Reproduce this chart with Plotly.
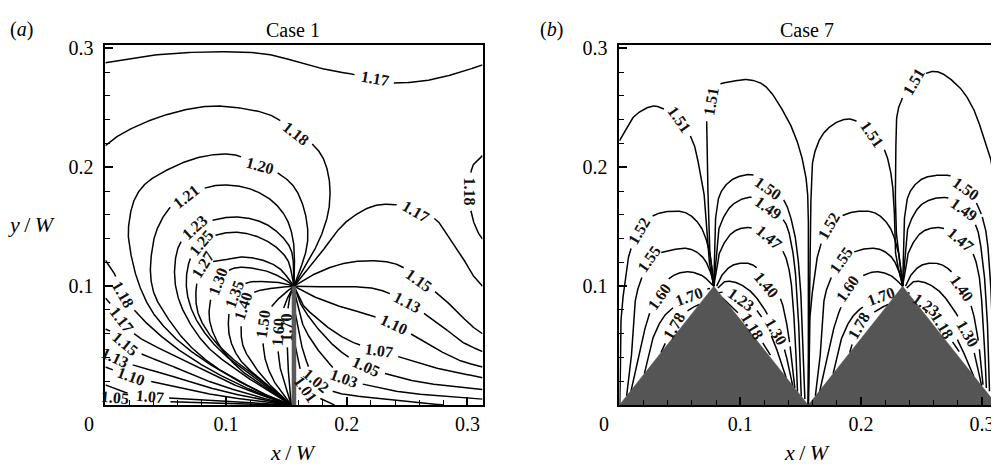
import numpy as np
import plotly.graph_objects as go

# ---------------- data (x/W, y/W) ----------------
# Panel (a) : Case 1, thin plate at x = 0.15625, tip at y = 0.1
A_PLATE_X = [0.15625, 0.15625]
A_PLATE_Y = [0.0, 0.1]

A_117_TOP = [(0, 0.288), (0.037, 0.294), (0.089, 0.2972), (0.133, 0.2953), (0.158, 0.289), (0.18, 0.283),
             (0.2234, 0.2747), (0.2351, 0.2713), (0.2627, 0.2725), (0.2903, 0.2788), (0.3125, 0.2862)]
A_118_UP = [(0, 0.2182), (0.0065, 0.2237), (0.023, 0.2333), (0.0506, 0.2443), (0.0836, 0.2512), (0.111, 0.250),
            (0.1387, 0.243), (0.158, 0.2285), (0.1705, 0.2205), (0.18, 0.2085), (0.1855, 0.1893), (0.1855, 0.1672),
            (0.1815, 0.150), (0.1745, 0.133), (0.1655, 0.117), (0.15625, 0.1)]
A_118_RIGHT = [(0.3125, 0.2099), (0.3054, 0.203), (0.3027, 0.1948), (0.3013, 0.1796), (0.3027, 0.1645),
               (0.3054, 0.1534), (0.3096, 0.1438), (0.3125, 0.1397)]
A_120 = [(0.154, 0), (0.1387, 0.006), (0.111, 0.0198), (0.0835, 0.0364), (0.0587, 0.0556), (0.0394, 0.0777),
         (0.0285, 0.0997), (0.0216, 0.1245), (0.019, 0.1466), (0.024, 0.1727), (0.033, 0.186), (0.0506, 0.1975),
         (0.0781, 0.2085), (0.1056, 0.2107), (0.1277, 0.2017), (0.1415, 0.196), (0.1552, 0.185), (0.1635, 0.1686),
         (0.1677, 0.1466), (0.1663, 0.130), (0.15625, 0.1)]
A_121 = [(0.154, 0), (0.1413, 0.0047), (0.1165, 0.0171), (0.089, 0.0336), (0.067, 0.053), (0.0505, 0.075),
         (0.041, 0.092), (0.0375, 0.108), (0.0382, 0.1273), (0.0423, 0.1466), (0.0533, 0.1658), (0.067, 0.1755),
         (0.0863, 0.1837), (0.1029, 0.1851), (0.1222, 0.181), (0.1387, 0.1713), (0.1497, 0.1576), (0.1552, 0.141),
         (0.1566, 0.1245), (0.15625, 0.1)]
A_123 = [(0.154, 0), (0.133, 0.013), (0.111, 0.028), (0.0862, 0.0474), (0.0697, 0.0694), (0.060, 0.0915),
         (0.0573, 0.1135), (0.0616, 0.1355), (0.074, 0.149), (0.0919, 0.1562), (0.1112, 0.1581), (0.1305, 0.1534),
         (0.1443, 0.1438), (0.154, 0.130), (0.15625, 0.1)]
A_125 = [(0.154, 0), (0.1277, 0.0198), (0.1056, 0.0364), (0.0862, 0.0556), (0.0725, 0.0777), (0.0671, 0.0997),
         (0.0699, 0.1218), (0.0795, 0.1369), (0.0946, 0.1438), (0.1112, 0.1452), (0.1277, 0.141), (0.1415, 0.1328),
         (0.1511, 0.1218), (0.15625, 0.1)]
A_127 = [(0.154, 0), (0.1304, 0.0198), (0.1084, 0.0364), (0.089, 0.0556), (0.0767, 0.0777), (0.0754, 0.0997),
         (0.081, 0.118), (0.0974, 0.1218), (0.1139, 0.1245), (0.1305, 0.1218), (0.1443, 0.1149), (0.15625, 0.1)]
A_130 = [(0.154, 0), (0.133, 0.0143), (0.111, 0.0306), (0.0945, 0.050), (0.0862, 0.0722), (0.0879, 0.0915),
         (0.0933, 0.1039), (0.1056, 0.1149), (0.1304, 0.1135), (0.147, 0.1066), (0.15625, 0.1)]
A_135 = [(0.154, 0), (0.1304, 0.0198), (0.111, 0.039), (0.1028, 0.058), (0.1028, 0.080), (0.107, 0.0928),
         (0.1166, 0.1025), (0.1332, 0.1039), (0.147, 0.1025), (0.15625, 0.1)]
A_140 = [(0.154, 0), (0.1414, 0.0116), (0.125, 0.0306), (0.114, 0.050), (0.1125, 0.0694), (0.1139, 0.0832),
         (0.1222, 0.0942), (0.1387, 0.0983), (0.15625, 0.1)]
A_150 = [(0.154, 0), (0.1414, 0.0171), (0.133, 0.0364), (0.1304, 0.0556), (0.1304, 0.068), (0.136, 0.0804),
         (0.1456, 0.0915), (0.15625, 0.1)]
A_160 = [(0.154, 0), (0.1455, 0.028), (0.143, 0.0474), (0.1429, 0.0612), (0.1456, 0.0736), (0.1497, 0.0873),
         (0.15625, 0.1)]
A_170 = [(0.154, 0), (0.152, 0.02), (0.151, 0.045), (0.1497, 0.0653), (0.1511, 0.079), (0.1525, 0.090),
         (0.15625, 0.1)]
A_118_LOW = [(0, 0.1218), (0.0065, 0.1125), (0.0147, 0.093), (0.0271, 0.0763), (0.0506, 0.0543), (0.078, 0.035),
             (0.1056, 0.0198), (0.1332, 0.0074), (0.154, 0)]
A_117_LOW = [(0, 0.090), (0.006, 0.083), (0.0134, 0.0722), (0.025, 0.059), (0.05, 0.045), (0.078, 0.031),
             (0.1, 0.020), (0.13, 0.008), (0.154, 0)]
A_115_LOW = [(0, 0.064), (0.006, 0.061), (0.0161, 0.0515), (0.03, 0.043), (0.05, 0.035), (0.078, 0.023),
             (0.1, 0.015), (0.13, 0.006), (0.154, 0)]
A_113_LOW = [(0, 0.047), (0.0078, 0.040), (0.025, 0.033), (0.05, 0.026), (0.078, 0.017), (0.1, 0.011),
             (0.13, 0.0045), (0.154, 0)]
A_110_LOW = [(0, 0.032), (0.0216, 0.024), (0.05, 0.017), (0.078, 0.011), (0.1, 0.007), (0.13, 0.003), (0.154, 0)]
A_107_LOW = [(0, 0.017), (0.015, 0.011), (0.0368, 0.0074), (0.06, 0.0055), (0.1, 0.003), (0.154, 0)]
A_105_LOW = [(0, 0.0085), (0.0078, 0.006), (0.025, 0.004), (0.06, 0.0025), (0.1, 0.0012), (0.154, 0)]
A_117_R = [(0.15625, 0.1), (0.166, 0.112), (0.178, 0.127), (0.1911, 0.1452), (0.2021, 0.1562), (0.2214, 0.1672),
           (0.2406, 0.1686), (0.2572, 0.1631), (0.2737, 0.1562), (0.282, 0.1452), (0.2947, 0.1265), (0.304, 0.110),
           (0.3125, 0.100)]
A_115_R = [(0.15625, 0.1), (0.169, 0.108), (0.1938, 0.1182), (0.2214, 0.1215), (0.2434, 0.1176), (0.260, 0.1052),
           (0.2737, 0.095), (0.2903, 0.080), (0.303, 0.067), (0.3125, 0.060)]
A_113_R = [(0.15625, 0.1), (0.166, 0.0995), (0.1938, 0.0997), (0.2214, 0.0983), (0.2351, 0.094), (0.2503, 0.086),
           (0.2627, 0.078), (0.2793, 0.066), (0.2958, 0.053), (0.3125, 0.045)]
A_110_R = [(0.15625, 0.1), (0.169, 0.093), (0.1938, 0.0832), (0.2214, 0.075), (0.2393, 0.068), (0.257, 0.0575),
           (0.2765, 0.046), (0.295, 0.037), (0.3125, 0.032)]
A_107_R = [(0.15625, 0.1), (0.1635, 0.0846), (0.1745, 0.0736), (0.1883, 0.0625), (0.2048, 0.0529), (0.2269, 0.046),
           (0.2434, 0.0405), (0.271, 0.032), (0.3125, 0.023)]
A_105_R = [(0.15625, 0.1), (0.1607, 0.0873), (0.169, 0.0736), (0.18, 0.0598), (0.1938, 0.046), (0.2158, 0.0322),
           (0.2351, 0.0255), (0.2627, 0.019), (0.3125, 0.013)]
A_103_R = [(0.1572, 0.093), (0.1635, 0.068), (0.1745, 0.0488), (0.1855, 0.035), (0.198, 0.0225), (0.2158, 0.017),
           (0.2489, 0.0105), (0.3125, 0.005)]
A_102_R = [(0.157, 0.079), (0.161, 0.057), (0.1663, 0.0377), (0.1745, 0.0205), (0.1883, 0.0116), (0.2214, 0.006),
           (0.26, 0.002), (0.28, 0)]
A_101_R = [(0.157, 0.0515), (0.161, 0.032), (0.1663, 0.0135), (0.1828, 0.0033), (0.19, 0)]

A_CURVES = [A_117_TOP, A_118_UP, A_118_RIGHT, A_120, A_121, A_123, A_125, A_127, A_130, A_135, A_140, A_150,
            A_160, A_170, A_118_LOW, A_117_LOW, A_115_LOW, A_113_LOW, A_110_LOW, A_107_LOW, A_105_LOW,
            A_117_R, A_115_R, A_113_R, A_110_R, A_107_R, A_105_R, A_103_R, A_102_R, A_101_R]

# (text, x, y, angle)
A_LABELS = [("1.17", 0.2234, 0.2747, 10), ("1.18", 0.158, 0.2285, 38), ("1.20", 0.1277, 0.2017, 15),
            ("1.21", 0.067, 0.1755, -38), ("1.23", 0.074, 0.149, -42), ("1.25", 0.0795, 0.1369, -50),
            ("1.27", 0.081, 0.118, -58), ("1.30", 0.0933, 0.1039, -70), ("1.35", 0.107, 0.0928, -70),
            ("1.40", 0.1139, 0.0832, -72), ("1.50", 0.1304, 0.068, -82), ("1.60", 0.1429, 0.0612, -86),
            ("1.70", 0.1497, 0.0653, -90), ("1.18", 0.0147, 0.093, 60), ("1.17", 0.0134, 0.0722, 52),
            ("1.15", 0.0161, 0.0515, 40), ("1.13", 0.0078, 0.040, 25), ("1.10", 0.0216, 0.024, 20),
            ("1.07", 0.0368, 0.0074, 5), ("1.05", 0.0078, 0.006, 5), ("1.18", 0.3013, 0.1796, 90),
            ("1.17", 0.2572, 0.1631, 30), ("1.15", 0.260, 0.1052, 35), ("1.13", 0.2503, 0.086, 27),
            ("1.10", 0.2393, 0.068, 25), ("1.07", 0.2269, 0.046, 8), ("1.05", 0.2158, 0.0322, 25),
            ("1.03", 0.198, 0.0225, 20), ("1.02", 0.1745, 0.0205, 40), ("1.01", 0.1663, 0.0135, 55)]

# Panel (b) : Case 7, two triangular obstacles
B_TRI_X = [0.0, 0.078125, 0.15625, 0.234375, 0.3125, 0.0]
B_TRI_Y = [0.0, 0.1, 0.0, 0.1, 0.0, 0.0]

B_151_L1 = [(0, 0.2223), (0.0124, 0.243), (0.0262, 0.2512), (0.033, 0.2507), (0.0496, 0.240), (0.0606, 0.2223),
            (0.0661, 0.20), (0.0697, 0.181), (0.0716, 0.1507), (0.0745, 0.120), (0.0781, 0.1)]
B_151_R1 = [(0.0781, 0.1), (0.0755, 0.12), (0.0744, 0.1397), (0.073, 0.1948), (0.0725, 0.2416), (0.0758, 0.2554),
            (0.0813, 0.269), (0.0923, 0.2719), (0.106, 0.2738), (0.1198, 0.269), (0.1364, 0.2457), (0.146, 0.225),
            (0.1529, 0.20), (0.1556, 0.18), (0.1565, 0.14), (0.1565, 0.08), (0.1562, 0)]
B_151_L2 = [(0.1562, 0), (0.157, 0.08), (0.1584, 0.1686), (0.161, 0.21), (0.1694, 0.2292), (0.1818, 0.2388),
            (0.1928, 0.2402), (0.2094, 0.2278), (0.219, 0.2154), (0.2245, 0.196), (0.2273, 0.1686), (0.2287, 0.127),
            (0.2344, 0.1)]
B_151_R2 = [(0.2344, 0.1), (0.2295, 0.141), (0.2287, 0.21), (0.2314, 0.2512), (0.2438, 0.2719), (0.2562, 0.280),
            (0.2645, 0.280), (0.281, 0.2678), (0.292, 0.2512), (0.3003, 0.2292), (0.3072, 0.2072), (0.3113, 0.1796),
            (0.3125, 0.1686)]
B_152_1 = [(0.0003, 0.0004), (0.0008, 0.017), (0.0014, 0.072), (0.0041, 0.0997), (0.0083, 0.1273), (0.0165, 0.1466),
           (0.0275, 0.159), (0.0413, 0.163), (0.0551, 0.1617), (0.0661, 0.152), (0.073, 0.1355), (0.0766, 0.1163),
           (0.0781, 0.1)]
B_155_1 = [(0.006, 0.0077), (0.0095, 0.035), (0.011, 0.06), (0.0138, 0.0915), (0.0179, 0.1052), (0.0248, 0.1231),
           (0.0413, 0.130), (0.0579, 0.1314), (0.0689, 0.1245), (0.0758, 0.1107), (0.0781, 0.1)]
B_160_1 = [(0.0096, 0.0116), (0.0165, 0.0446), (0.0234, 0.0722), (0.0275, 0.0832), (0.0331, 0.0915),
           (0.0413, 0.1066), (0.0551, 0.1121), (0.0675, 0.1094), (0.0744, 0.1039), (0.0781, 0.1)]
B_170_1 = [(0.0207, 0.0265), (0.0275, 0.0556), (0.0372, 0.0749), (0.0482, 0.0846), (0.0579, 0.0915),
           (0.0702, 0.097), (0.075, 0.098)]
B_178_1 = [(0.0344, 0.0441), (0.0455, 0.0667), (0.0579, 0.0804), (0.0661, 0.0846)]
B_150_1 = [(0.0781, 0.1), (0.0786, 0.13), (0.0795, 0.156), (0.084, 0.179), (0.095, 0.1906), (0.1116, 0.1934),
           (0.1233, 0.1824), (0.135, 0.174), (0.1433, 0.152), (0.1488, 0.1135), (0.1515, 0.0584), (0.1535, 0.005)]
B_149_1 = [(0.0781, 0.1), (0.0805, 0.13), (0.0826, 0.149), (0.0937, 0.1686), (0.110, 0.1747), (0.1226, 0.1658),
           (0.1364, 0.1548), (0.1433, 0.130), (0.1474, 0.086), (0.1505, 0.0074)]
B_147_1 = [(0.0781, 0.1), (0.0815, 0.118), (0.0826, 0.1273), (0.0937, 0.1452), (0.1074, 0.1493), (0.124, 0.141),
           (0.135, 0.130), (0.1405, 0.1135), (0.1446, 0.0722), (0.1474, 0.0113)]
B_140_1 = [(0.0805, 0.1), (0.084, 0.108), (0.0937, 0.1176), (0.1074, 0.119), (0.1157, 0.1135), (0.1212, 0.1011),
           (0.1322, 0.0915), (0.1377, 0.0722), (0.1419, 0.0446), (0.1452, 0.0142)]
B_130_1 = [(0.0815, 0.0985), (0.0865, 0.1035), (0.095, 0.1035), (0.107, 0.097), (0.1185, 0.0832), (0.1295, 0.0618),
           (0.1364, 0.0474), (0.1405, 0.030), (0.1435, 0.016)]
B_123_1 = [(0.0825, 0.0945), (0.0882, 0.095), (0.1006, 0.0887), (0.113, 0.0804), (0.121, 0.068), (0.128, 0.053),
           (0.134, 0.035), (0.138, 0.023)]
B_118_1 = [(0.085, 0.0905), (0.095, 0.0805), (0.110, 0.066), (0.117, 0.055), (0.125, 0.042)]
B_152_2 = [(0.1565, 0.0004), (0.157, 0.017), (0.1576, 0.072), (0.1603, 0.0997), (0.1645, 0.1273), (0.1736, 0.1507),
           (0.1837, 0.159), (0.1975, 0.163), (0.2113, 0.1617), (0.2223, 0.152), (0.2292, 0.1355), (0.2328, 0.1163),
           (0.2344, 0.1)]
B_155_2 = [(0.1622, 0.0077), (0.1657, 0.035), (0.1672, 0.06), (0.170, 0.0915), (0.1745, 0.1052), (0.1832, 0.1218),
           (0.1975, 0.130), (0.2141, 0.1314), (0.2251, 0.1245), (0.232, 0.1107), (0.2344, 0.1)]
B_160_2 = [(0.1658, 0.0116), (0.1727, 0.0446), (0.1796, 0.0722), (0.1837, 0.0832), (0.1887, 0.0983),
           (0.1975, 0.1066), (0.2113, 0.1121), (0.2237, 0.1094), (0.2306, 0.1039), (0.2344, 0.1)]
B_170_2 = [(0.1769, 0.0265), (0.1837, 0.0556), (0.1934, 0.0749), (0.2044, 0.0846), (0.2163, 0.0915),
           (0.2264, 0.097), (0.231, 0.098)]
B_178_2 = [(0.1906, 0.0441), (0.1983, 0.0667), (0.2141, 0.0804), (0.2223, 0.0846)]
B_150_2 = [(0.2344, 0.1), (0.2349, 0.13), (0.2358, 0.156), (0.2403, 0.179), (0.2513, 0.1906), (0.2679, 0.1934),
           (0.278, 0.1915), (0.2865, 0.1824), (0.2955, 0.170), (0.3025, 0.150), (0.3065, 0.1135), (0.309, 0.0584),
           (0.311, 0.005)]
B_149_2 = [(0.2344, 0.1), (0.2368, 0.13), (0.2389, 0.149), (0.25, 0.1686), (0.2663, 0.1747), (0.2775, 0.172),
           (0.2851, 0.1645), (0.295, 0.151), (0.2996, 0.130), (0.3037, 0.086), (0.3063, 0.0116)]
B_147_2 = [(0.2344, 0.1), (0.2378, 0.118), (0.2389, 0.1273), (0.25, 0.1452), (0.2637, 0.1493), (0.275, 0.146),
           (0.2824, 0.1397), (0.2913, 0.130), (0.2968, 0.1135), (0.3009, 0.0722), (0.3037, 0.0143)]
B_140_2 = [(0.2368, 0.1), (0.2403, 0.108), (0.25, 0.1176), (0.2637, 0.119), (0.274, 0.113), (0.2837, 0.0983),
           (0.2905, 0.085), (0.294, 0.0722), (0.2982, 0.0446), (0.3009, 0.0171)]
B_130_2 = [(0.2378, 0.0985), (0.2428, 0.1035), (0.2513, 0.1035), (0.2633, 0.097), (0.2748, 0.0832),
           (0.2879, 0.0598), (0.2927, 0.0474), (0.2968, 0.030), (0.2998, 0.016)]
B_123_2 = [(0.2388, 0.0945), (0.2445, 0.092), (0.2534, 0.0846), (0.2650, 0.077), (0.2733, 0.066), (0.2813, 0.052),
           (0.2883, 0.036), (0.2933, 0.024)]
B_118_2 = [(0.2412, 0.0905), (0.2512, 0.0805), (0.2672, 0.0647), (0.2752, 0.054), (0.2812, 0.045)]

B_CURVES = [B_151_L1, B_151_R1, B_151_L2, B_151_R2, B_152_1, B_155_1, B_160_1, B_170_1, B_178_1, B_150_1,
            B_149_1, B_147_1, B_140_1, B_130_1, B_123_1, B_118_1, B_152_2, B_155_2, B_160_2, B_170_2, B_178_2,
            B_150_2, B_149_2, B_147_2, B_140_2, B_130_2, B_123_2, B_118_2]

B_LABELS = [("1.51", 0.0496, 0.240, 55), ("1.51", 0.0758, 0.2554, -80), ("1.51", 0.2094, 0.2278, 55),
            ("1.51", 0.2438, 0.2719, -60), ("1.52", 0.0165, 0.1466, -60), ("1.55", 0.0248, 0.1231, -55),
            ("1.60", 0.0331, 0.0915, -55), ("1.70", 0.0579, 0.0915, -20), ("1.78", 0.0455, 0.0667, -60),
            ("1.50", 0.1233, 0.1824, 35), ("1.49", 0.1226, 0.1658, 35), ("1.47", 0.124, 0.141, 40),
            ("1.40", 0.1212, 0.1011, 50), ("1.30", 0.1295, 0.0618, 60), ("1.23", 0.1006, 0.0887, 35),
            ("1.18", 0.110, 0.066, 58), ("1.52", 0.1736, 0.1507, -60), ("1.55", 0.1832, 0.1218, -55),
            ("1.60", 0.1887, 0.0983, -55), ("1.70", 0.2163, 0.0915, -20), ("1.78", 0.1983, 0.0667, -60),
            ("1.50", 0.2865, 0.1824, 35), ("1.49", 0.2851, 0.1645, 35), ("1.47", 0.2824, 0.1397, 40),
            ("1.40", 0.2837, 0.0983, 55), ("1.30", 0.2879, 0.0598, 60), ("1.23", 0.2534, 0.0846, 35),
            ("1.18", 0.2672, 0.0667, 58)]

TICKS_MAJOR = [0.1, 0.2, 0.3]
TICK_TEXT = ["0.1", "0.2", "0.3"]
TICKS_MINOR = [0.02, 0.04, 0.06, 0.08, 0.12, 0.14, 0.16, 0.18, 0.22, 0.24, 0.26, 0.28]

# ---------------- layout constants (window pixels) ----------------
WIN_W, WIN_H = 999, 465
OFF = 8                      # page body margin of the browser
W, H = WIN_W - OFF, WIN_H - OFF
SERIF = "Liberation Serif"
LABEL_SIZE = 16
PX_PER_UNIT = 1209.0         # both axes share the same scale


def fx(px):
    return (px - OFF) / W


def fy(py):
    return 1 - (py - OFF) / H


def catmull_rom(points, n=24):
    """Centripetal Catmull-Rom smoothing through the read points."""
    P = np.asarray(points, float)
    if len(P) < 3:
        return P
    P = np.vstack([2 * P[0] - P[1], P, 2 * P[-1] - P[-2]])
    out = []
    s = np.linspace(0, 1, n, endpoint=False)[:, None]
    for i in range(1, len(P) - 2):
        p0, p1, p2, p3 = P[i - 1], P[i], P[i + 1], P[i + 2]
        t0 = 0.0
        t1 = t0 + max(np.linalg.norm(p1 - p0), 1e-9) ** 0.5
        t2 = t1 + max(np.linalg.norm(p2 - p1), 1e-9) ** 0.5
        t3 = t2 + max(np.linalg.norm(p3 - p2), 1e-9) ** 0.5
        t = t1 + (t2 - t1) * s
        a1 = (t1 - t) / (t1 - t0) * p0 + (t - t0) / (t1 - t0) * p1
        a2 = (t2 - t) / (t2 - t1) * p1 + (t - t1) / (t2 - t1) * p2
        a3 = (t3 - t) / (t3 - t2) * p2 + (t - t2) / (t3 - t2) * p3
        b1 = (t2 - t) / (t2 - t0) * a1 + (t - t0) / (t2 - t0) * a2
        b2 = (t3 - t) / (t3 - t1) * a2 + (t - t1) / (t3 - t1) * a3
        c = (t2 - t) / (t2 - t1) * b1 + (t - t1) / (t2 - t1) * b2
        out.append(c)
    out.append(P[-2][None, :])
    return np.vstack(out)


def gap_mask(xy, labels):
    """Hide line pieces lying under a contour label (like the gaps of the original)."""
    keep = np.ones(len(xy), bool)
    for t, x, y, ang in labels:
        a = np.deg2rad(ang)
        u = (xy[:, 0] - x) * PX_PER_UNIT
        v = -(xy[:, 1] - y) * PX_PER_UNIT
        along = u * np.cos(a) + v * np.sin(a)
        perp = -u * np.sin(a) + v * np.cos(a)
        hw = 0.27 * LABEL_SIZE * len(t) + 2
        keep &= ~((np.abs(along) < hw) & (np.abs(perp) < 6))
    return keep


fig = go.Figure()


def add_curves(curves, labels, xa, ya):
    for c in curves:
        xy = catmull_rom(c)
        keep = gap_mask(xy, labels)
        xs = [float(p[0]) if k else None for p, k in zip(xy, keep)]
        ys = [float(p[1]) if k else None for p, k in zip(xy, keep)]
        fig.add_trace(go.Scatter(x=xs, y=ys, mode="lines", line=dict(color="black", width=1.5),
                                 xaxis=xa, yaxis=ya, hoverinfo="skip", showlegend=False))


add_curves(A_CURVES, A_LABELS, "x", "y")
add_curves(B_CURVES, B_LABELS, "x2", "y2")

fig.add_trace(go.Scatter(x=A_PLATE_X, y=A_PLATE_Y, mode="lines", line=dict(color="#5a5a5a", width=4.5),
                         xaxis="x", yaxis="y", hoverinfo="skip", showlegend=False))
fig.add_trace(go.Scatter(x=B_TRI_X, y=B_TRI_Y, mode="lines", fill="toself", fillcolor="#555555",
                         line=dict(color="#555555", width=0.5), xaxis="x2", yaxis="y2",
                         hoverinfo="skip", showlegend=False))

anns = []
for lbls, xr, yr in ((A_LABELS, "x", "y"), (B_LABELS, "x2", "y2")):
    for t, x, y, ang in lbls:
        anns.append(dict(text=t, x=x, y=y, xref=xr, yref=yr, showarrow=False, textangle=ang,
                         font=dict(family=SERIF, size=LABEL_SIZE, color="#111", weight="bold"), borderpad=0))


def txt(s, px, py, size=20):
    anns.append(dict(text=s, x=fx(px), y=fy(py), xref="paper", yref="paper", showarrow=False,
                     xanchor="center", yanchor="middle", font=dict(family=SERIF, size=size, color="black")))


txt("(<i>a</i>)", 22, 22)
txt("Case 1", 293, 22)
txt("(<i>b</i>)", 552, 22)
txt("Case 7", 808, 22)
txt("<i>y</i>\u2009/\u2009<i>W</i>", 32, 220, 22)
txt("<i>x</i>\u2009/\u2009<i>W</i>", 293, 452, 22)
txt("<i>x</i>\u2009/\u2009<i>W</i>", 808, 452, 22)
txt("0", 89, 423)
txt("0", 605, 423)

fig.update_layout(annotations=anns)

axis_common = dict(showline=True, mirror=True, linecolor="black", linewidth=2, ticks="inside", ticklen=8,
                   tickwidth=1.5, tickcolor="black", tickvals=TICKS_MAJOR, ticktext=TICK_TEXT,
                   minor=dict(ticks="inside", ticklen=5, tickwidth=1.2, tickcolor="black", tickvals=TICKS_MINOR),
                   showgrid=False, zeroline=False, tickfont=dict(family=SERIF, size=20, color="black"),
                   fixedrange=True)

ydom = [fy(404), fy(38)]
fig.update_layout(
    width=W, height=H, margin=dict(l=0, r=0, t=0, b=0), paper_bgcolor="white", plot_bgcolor="white",
    xaxis=dict(domain=[fx(105.5), fx(483)], range=[0, 0.3125], anchor="y", ticklabelstandoff=0, **axis_common),
    yaxis=dict(domain=ydom, range=[0, 0.3025], anchor="x", ticklabelstandoff=6, **axis_common),
    xaxis2=dict(domain=[fx(620), fx(998)], range=[0, 0.3125], anchor="y2", ticklabelstandoff=0, **axis_common),
    yaxis2=dict(domain=ydom, range=[0, 0.3025], anchor="x2", ticklabelstandoff=6, **axis_common),
)

fig.write_html("out.html")
